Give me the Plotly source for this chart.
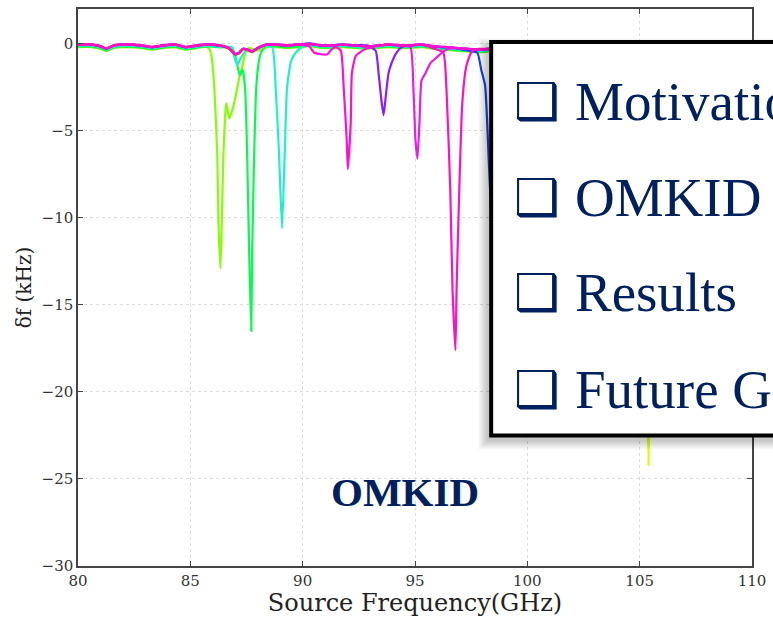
import plotly.graph_objects as go

# ---------------------------------------------------------------
# Frequency sweep of the OMKID resonators: shift of each resonance
# (delta f, kHz) versus source frequency (GHz).
# ---------------------------------------------------------------

# shared off-resonance baseline
BASE_F = [80.0, 80.6, 81.0, 81.25, 81.6, 82.2, 82.8, 83.3, 83.8, 84.3, 84.8,
          85.3, 85.8, 86.3, 86.7, 87.0, 87.15, 87.35, 87.55, 87.75, 88.0,
          88.4, 88.8, 89.3, 89.8, 90.3, 90.8, 91.3, 91.8, 92.3, 92.8, 93.3,
          93.8, 94.3, 94.8, 95.3, 95.8, 96.3, 96.8, 97.3, 97.8, 98.3, 99.0,
          100.0, 101.0, 102.0, 103.0, 104.0, 105.0, 106.0, 107.0, 108.0,
          109.0, 110.0]
BASE_DF = [-0.05, -0.05, -0.15, -0.28, -0.1, -0.05, -0.1, -0.2, -0.1, -0.05,
           -0.2, -0.1, -0.05, -0.1, -0.25, -0.6, -0.55, -0.3, -0.35, -0.45,
           -0.25, -0.05, -0.05, -0.1, -0.05, 0.0, -0.1, -0.1, -0.05, -0.1,
           -0.15, -0.1, -0.05, -0.1, -0.1, -0.05, -0.15, -0.2, -0.25, -0.3,
           -0.35, -0.3, -0.2, -0.15, -0.1, -0.15, -0.1, -0.1, -0.15, -0.1,
           -0.1, -0.15, -0.1, -0.1]

# resonance features of each detector
LIME_F = [85.7, 85.85, 85.94, 86.07, 86.2, 86.25, 86.34, 86.4, 86.47, 86.56,
          86.6, 86.73, 86.87, 87.05, 87.2, 87.3, 87.45, 87.6]
LIME_DF = [-0.15, -0.3, -0.7, -2.6, -6.4, -10.2, -12.9, -10.2, -6.4, -3.9,
           -3.4, -4.3, -3.8, -2.8, -1.8, -1.4, -0.5, -0.25]

GREEN_F = [86.85, 87.0, 87.1, 87.2, 87.28, 87.33, 87.44, 87.53, 87.62,
           87.71, 87.75, 87.84, 87.93, 88.05, 88.15, 88.37]
GREEN_DF = [-0.2, -0.7, -1.3, -1.8, -1.6, -1.5, -2.6, -6.4, -12.1, -16.5,
            -12.1, -6.4, -2.6, -1.0, -0.5, -0.12]

TURQ_F = [86.8, 87.0, 87.1, 87.25, 87.5, 87.8, 88.2, 88.64, 88.8, 88.95,
          89.08, 89.2, 89.3, 89.48, 89.7, 89.97]
TURQ_DF = [-0.2, -0.9, -1.2, -0.8, -0.35, -0.4, -0.15, -0.2, -2.6, -6.4,
           -10.6, -6.4, -2.6, -1.0, -0.5, -0.2]

MAGENTA_F = [90.3, 90.5, 90.8, 91.1, 91.3, 91.5, 91.7, 91.83, 91.96, 92.01,
             92.14, 92.19, 92.36, 92.72, 93.07]
MAGENTA_DF = [-0.15, -0.5, -0.6, -0.6, -0.3, -0.2, -0.4, -2.6, -5.5, -7.2,
              -4.5, -1.7, -0.7, -0.35, -0.2]

VIOLET_F = [92.9, 93.25, 93.38, 93.5, 93.6, 93.7, 93.82, 93.96, 94.18, 94.4]
VIOLET_DF = [-0.1, -0.4, -1.7, -3.2, -4.1, -3.0, -1.7, -1.1, -0.5, -0.2]

ORCHID_F = [94.5, 94.8, 94.93, 95.02, 95.11, 95.2, 95.29, 95.46, 95.69, 95.95,
            96.26, 96.48]
ORCHID_DF = [-0.1, -0.2, -2.6, -5.5, -6.6, -4.5, -2.1, -1.7, -1.1, -0.8,
             -0.45, -0.3]

PINK_F = [95.9, 96.26, 96.4, 96.57, 96.67, 96.8, 96.85, 96.97, 97.1, 97.28,
          97.5, 97.72]
PINK_DF = [-0.3, -0.5, -2.6, -8.4, -14.1, -17.6, -14.1, -8.4, -3.5, -1.3,
           -0.5, -0.3]

BLUE_F = [97.4, 97.77, 97.95, 98.12, 98.3, 98.45, 98.6, 98.75, 98.9, 99.1,
          99.4]
BLUE_DF = [-0.4, -0.5, -1.5, -2.4, -7.2, -11.0, -12.5, -8.0, -3.0, -1.0,
           -0.3]

YELLOW_F = [104.7, 104.95, 105.15, 105.3, 105.39, 105.5, 105.65, 105.85,
            106.1]
YELLOW_DF = [-0.15, -0.6, -4.0, -17.0, -24.2, -15.0, -3.0, -0.6, -0.15]

# (name, colour, baseline offset, frequencies, shifts) in drawing order
DETECTORS = [
    ("105.4 GHz", "#dcff00", -0.05, YELLOW_F, YELLOW_DF),
    ("86.3 GHz", "#84ff00", -0.14, LIME_F, LIME_DF),
    ("87.7 GHz", "#00ff48", -0.1, GREEN_F, GREEN_DF),
    ("89.1 GHz", "#1cf2c8", -0.06, TURQ_F, TURQ_DF),
    ("98.6 GHz", "#1646e8", 0.0, BLUE_F, BLUE_DF),
    ("93.6 GHz", "#8a1cff", 0.02, VIOLET_F, VIOLET_DF),
    ("95.1 GHz", "#e61ee8", 0.0, ORCHID_F, ORCHID_DF),
    ("92.0 GHz", "#ff10d0", 0.02, MAGENTA_F, MAGENTA_DF),
    ("96.8 GHz", "#ff10c0", 0.0, PINK_F, PINK_DF),
]

X_TICKS = [80, 85, 90, 95, 100, 105, 110]
Y_TICKS = [0, -5, -10, -15, -20, -25, -30]

AGENDA = ["Motivation", "OMKID and Setup", "Results", "Future Goals"]
NAVY = "#002060"


def sweep(res_f, res_df, offset):
    """Off-resonance baseline joined with the resonance points."""
    pts = [(f, v + offset) for f, v in zip(BASE_F, BASE_DF)
           if min(abs(f - r) for r in res_f) > 0.25]
    pts += list(zip(res_f, res_df))
    pts.sort()
    return [p[0] for p in pts], [p[1] for p in pts]


fig = go.Figure()
for name, colour, off, rf, rdf in DETECTORS:
    xs, ys = sweep(rf, rdf, off)
    fig.add_trace(go.Scatter(x=xs, y=ys, mode="lines", name=name,
                             line=dict(color=colour, width=2.2,
                                       shape="spline", smoothing=0.5),
                             showlegend=False))

# plot-area geometry in page pixels
W, H = 773, 617
L, R, T, B = 78, 755, 7, 566


def px(x):
    return (x - L) / (R - L)


def py(y):
    return (B - y) / (B - T)


axis_common = dict(
    showline=True, linecolor="#444444", linewidth=1.5, mirror="ticks",
    ticks="inside", ticklen=5, tickwidth=1, tickcolor="#444444",
    showgrid=True, gridcolor="#dcdcdc", griddash="dot", gridwidth=1,
    zeroline=False,
    tickfont=dict(family="DejaVu Serif", size=15, color="#333333"),
)

fig.update_layout(
    width=W, height=H,
    margin=dict(l=L, r=W - R, t=T, b=H - B),
    paper_bgcolor="white", plot_bgcolor="white",
    xaxis=dict(range=[80, 110], tickvals=X_TICKS,
               title=dict(text="Source Frequency(GHz)", standoff=2,
                          font=dict(family="DejaVu Serif", size=24,
                                    color="#222222")),
               **axis_common),
    yaxis=dict(range=[-30, 2], tickvals=Y_TICKS,
               title=dict(text="δf (kHz)", standoff=5,
                          font=dict(family="DejaVu Serif", size=20,
                                    color="#222222")),
               **axis_common),
)

# agenda panel with a soft drop shadow (offset down and to the left)
bx0, bx1, by_top, by_bot = 493, 800, 40, 435
shapes = []
for k in range(10, 0, -1):
    shapes.append(dict(
        type="rect", xref="paper", yref="paper",
        x0=px(bx0 - 3 - k), x1=px(bx1), y0=py(by_bot + 4 + k),
        y1=py(by_top + 6 - k),
        line=dict(width=0), fillcolor="rgba(0,0,0,0.022)", layer="above"))
shapes.append(dict(
    type="rect", xref="paper", yref="paper",
    x0=px(bx0), x1=px(bx1), y0=py(by_bot), y1=py(by_top),
    line=dict(color="black", width=4), fillcolor="white", layer="above"))
fig.update_layout(shapes=shapes)

rows_y = [102, 198, 294, 391]
for label, yc in zip(AGENDA, rows_y):
    fig.add_annotation(xref="paper", yref="paper", x=px(514), y=py(yc - 2),
                       xanchor="left", yanchor="middle", showarrow=False,
                       text="❑", font=dict(family="DejaVu Sans", size=51,
                                            color=NAVY))
    fig.add_annotation(xref="paper", yref="paper", x=px(575), y=py(yc - 2),
                       xanchor="left", yanchor="middle", showarrow=False,
                       text=label, font=dict(family="Liberation Serif",
                                             size=55, color=NAVY))

fig.add_annotation(xref="paper", yref="paper", x=px(406), y=py(492),
                   xanchor="center", yanchor="middle", showarrow=False,
                   text="<b>OMKID</b>",
                   font=dict(family="Liberation Serif", size=41, color=NAVY))

fig.write_html("out.html")
